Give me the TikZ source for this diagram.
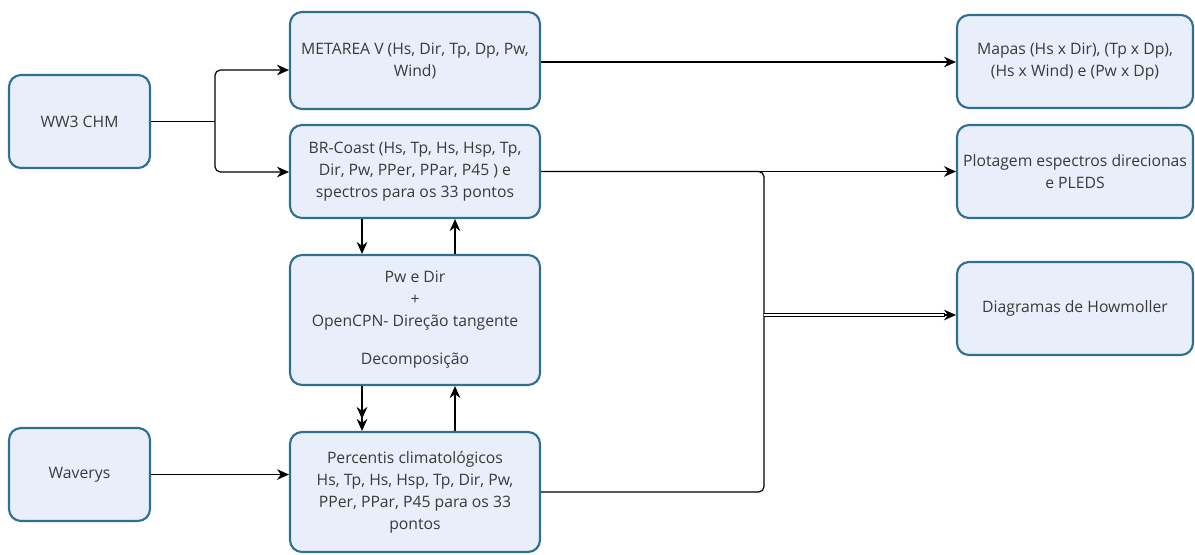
\documentclass[tikz,border=0pt]{standalone}
\usepackage{fontspec}
\setmainfont{Open Sans}
\usetikzlibrary{arrows.meta}
\definecolor{boxfill}{HTML}{E9EEFB}
\definecolor{boxdraw}{HTML}{2E6F93}
\definecolor{txt}{HTML}{3A3A3A}
\tikzset{
  box/.style={draw=boxdraw, fill=boxfill, line width=1.6pt, rounded corners=9pt,
    align=center, text=txt, font=\fontsize{11.8}{16.5}\selectfont, inner sep=2pt},
  conn/.style={line width=0.9pt, -{Stealth[length=9pt,width=8pt]}},
  plain/.style={line width=0.9pt},
  dbl/.style={double, double distance=1.4pt, line width=0.7pt},
}
\begin{document}
\begin{tikzpicture}[x=0.75pt,y=-0.75pt]
\useasboundingbox (0,0) rectangle (1195,554);
\node[box, minimum width=141*0.75pt, minimum height=93*0.75pt] (ww3) at (79.5,121.5) {WW3 CHM};
\node[box, minimum width=141*0.75pt, minimum height=93*0.75pt] (wav) at (79.5,474.5) {Waverys};
\node[box, minimum width=250*0.75pt, minimum height=97*0.75pt] (meta) at (415,60.5) {METAREA V (Hs, Dir, Tp, Dp, Pw,\\Wind)};
\node[box, minimum width=250*0.75pt, minimum height=93*0.75pt] (br) at (415,171.5) {BR-Coast (Hs, Tp, Hs, Hsp, Tp,\\Dir, Pw, PPer, PPar, P45 ) e\\spectros para os 33 pontos};
\node[box, minimum width=250*0.75pt, minimum height=130*0.75pt] (pw) at (415,320) {Pw e Dir\\+\\OpenCPN- Direção tangente\\[12pt]Decomposição};
\node[box, minimum width=250*0.75pt, minimum height=120*0.75pt] (perc) at (415,492) {Percentis climatológicos\\Hs, Tp, Hs, Hsp, Tp, Dir, Pw,\\PPer, PPar, P45 para os 33\\pontos};
\node[box, minimum width=236*0.75pt, minimum height=93*0.75pt] (mapas) at (1075,61.5) {Mapas (Hs x Dir), (Tp x Dp),\\(Hs x Wind) e (Pw x Dp)};
\node[box, minimum width=236*0.75pt, minimum height=93*0.75pt] (plot) at (1075,171.5) {Plotagem espectros direcionas\\e PLEDS};
\node[box, minimum width=236*0.75pt, minimum height=93*0.75pt] (diag) at (1075,308.5) {Diagramas de Howmoller};

% WW3 split
\coordinate (sp) at (215,121.5);
\draw[plain] (ww3.east) -- (sp);
\draw[conn, rounded corners=4pt] (sp) |- (meta.west |- 0,70);
\draw[conn, rounded corners=4pt] (sp) |- (br.west |- 0,172);
\draw[conn] (wav.east) -- (perc.west |- wav.east);

% outputs
\draw[conn] (meta.east |- 0,62) -- (mapas.west |- 0,62);
\draw[conn] (br.east) -- (plot.west |- br.east);
\coordinate (jn) at (764,315);
\draw[plain, rounded corners=4pt] (br.east) -| (jn);
\draw[plain, rounded corners=4pt] (perc.east) -| (jn);
\draw[dbl] (jn) -- ([xshift=-8pt]diag.west |- jn);
\draw[line width=0.9pt, -{Stealth[length=9pt,width=8pt]}] ([xshift=-9pt]diag.west |- jn) -- (diag.west |- jn);

% vertical links
\draw[conn] (br.south -| 362,0) -- (pw.north -| 362,0);
\draw[conn] (pw.north -| 455,0) -- (br.south -| 455,0);
\draw[line width=0.9pt, -{Stealth[length=9pt,width=8pt]Stealth[length=9pt,width=8pt]}] (pw.south -| 362,0) -- (perc.north -| 362,0);
\draw[conn] (perc.north -| 455,0) -- (pw.south -| 455,0);
\end{tikzpicture}
\end{document}
